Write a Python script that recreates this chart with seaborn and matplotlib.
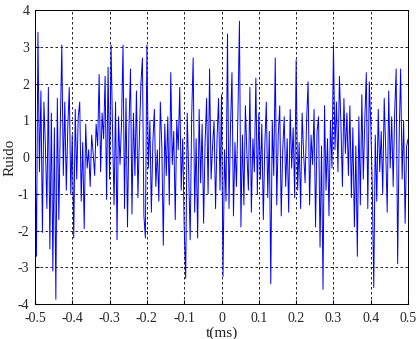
import numpy as np
import pandas as pd
import seaborn as sns
import matplotlib.pyplot as plt

# noise samples, one every 0.004 ms from -0.5 to 0.5
noise = [
    0.4, -2.7, 3.4, -0.4, 1.8, -2.05, 1.5, 0.3, -1.4, 1.9,
    -2.5, 1.2, -3.1, 0.8, -3.87, 1.6, -1.7, 0.9, 3.05, -0.5,
    1.5, -0.9, 0.8, 1.9, -1.0, 0.6, -2.2, 1.3, -0.6, 1.1,
    1.5, -1.2, 0.4, -1.95, 0.9, -0.3, 0.2, -0.8, 0.6, 0.1,
    -0.5, 0.9, 0.3, 2.25, -0.4, 1.2, 0.5, 2.2, -1.15, 2.45,
    -0.6, 3.05, 0.7, -1.3, 1.5, -2.25, 1.1, -0.2, 0.9, 3.05,
    -1.4, 1.6, -1.9, 0.8, 2.4, -1.55, 1.2, -0.5, 1.8, -1.1,
    0.6, 2.0, 2.7, -1.6, -2.2, 3.05, -0.3, 1.0, -1.5, 0.4,
    1.3, -0.8, 0.2, -1.2, 1.5, 0.3, -2.4, 0.9, -0.5, 1.1,
    -1.3, 2.3, -0.2, 0.7, -1.7, 1.0, 0.2, 1.9, -0.9, 0.5,
    -1.9, -3.3, 1.2, -0.4, -2.25, 1.1, 2.7, -1.5, 0.5, -2.2,
    1.3, -0.7, 0.9, -1.8, 0.4, 1.6, -1.0, 2.4, -0.6, 0.3,
    1.0, -1.4, 0.5, 1.6, -0.9, 1.7, -3.25, 0.2, -1.2, 3.35,
    -1.4, 0.8, 2.3, -1.6, 0.4, -0.8, 1.2, 3.7, -1.9, 0.6,
    -1.3, 1.4, 0.1, -0.9, 1.9, -1.5, 0.5, -0.4, 2.15, -1.0,
    1.2, -0.6, 0.9, -1.7, 0.3, 1.5, -1.1, 0.7, -3.45, 1.0,
    -0.5, 2.7, -1.3, 0.6, 1.4, -1.6, 0.2, 1.1, -0.8, 0.5,
    -1.5, 1.3, -0.3, 0.8, -1.1, 2.65, -0.9, 0.4, -1.4, 1.2,
    0.1, -0.7, 1.0, 2.05, -1.3, 0.6, -0.2, 1.3, -1.9, 0.7,
    1.1, -2.45, 0.3, -3.6, 1.4, -0.9, 0.5, -1.6, 1.0, -0.3,
    3.05, 0.2, 1.5, -0.4, 2.2, 0.9, -0.8, 1.6, 0.1, 1.2,
    -0.5, 1.4, -1.1, 0.8, -1.9, 0.3, -2.7, 1.1, -1.3, 1.7,
    -0.6, 1.0, 2.3, -1.4, 2.05, 0.9, -0.8, -3.55, 0.6, -1.2,
    1.3, -0.4, 0.7, -1.0, 1.6, 0.2, -1.5, 1.8, -0.3, 1.1,
    -0.8, 1.2, 2.4, -2.9, 0.5, 2.4, -0.6, 1.0, -1.8, 0.3,
    0.5,
]
t_start, t_step = -0.5, 0.004

xticks = [-0.5, -0.4, -0.3, -0.2, -0.1, 0, 0.1, 0.2, 0.3, 0.4, 0.5]
xticklabels = ['-0.5', '-0.4', '-0.3', '-0.2', '-0.1', '0', '0.1', '0.2', '0.3', '0.4', '0.5']
yticks = [-4, -3, -2, -1, 0, 1, 2, 3, 4]
yticklabels = ['-4', '-3', '-2', '-1', '0', '1', '2', '3', '4']

df = pd.DataFrame({'t': t_start + t_step * np.arange(len(noise)), 'ruido': noise})

sns.set_style('ticks')
plt.rcParams['font.family'] = ['Liberation Serif', 'DejaVu Serif']

fig = plt.figure(figsize=(4.16, 3.39), dpi=100)
ax = fig.add_axes([0.084, 0.103, 0.897, 0.867])

sns.lineplot(data=df, x='t', y='ruido', color='#0000ff', lw=0.7, ax=ax)

ax.set_xlim(-0.5, 0.5)
ax.set_ylim(-4, 4)
ax.set_xticks(xticks)
ax.set_xticklabels(xticklabels)
ax.set_yticks(yticks)
ax.set_yticklabels(yticklabels)
ax.grid(True, color='k', linestyle=(0, (3, 3)), lw=0.6)
ax.tick_params(direction='in', labelsize=10, length=3, color='k')
ax.tick_params(axis='x', pad=6)
ax.tick_params(axis='y', pad=4)
for s in ax.spines.values():
    s.set_color('k')
    s.set_linewidth(0.7)

ax.set_xlabel('t(ms)', fontsize=11, labelpad=1)
ax.set_ylabel('Ruido', fontsize=11, labelpad=1)

fig.savefig('out.png', dpi=100)
